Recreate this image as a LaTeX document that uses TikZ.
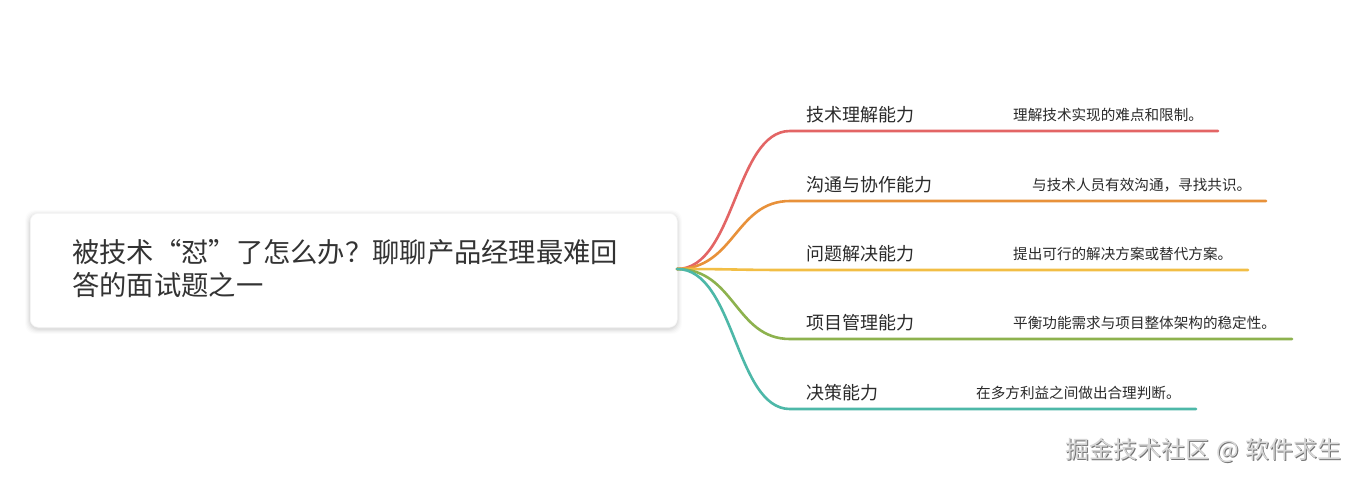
\documentclass[tikz,border=0pt]{standalone}
\usepackage{fontspec}
\setmainfont{Noto Sans CJK SC}
\newfontfamily\cjk{Noto Sans CJK SC}
\definecolor{cred}{HTML}{E36565}
\definecolor{corange}{HTML}{E8913A}
\definecolor{cyellow}{HTML}{F2BE45}
\definecolor{cgreen}{HTML}{8DB24E}
\definecolor{cteal}{HTML}{4DB8A8}
\definecolor{ctext}{HTML}{2A2A2A}
\definecolor{ctitle}{HTML}{333333}
\begin{document}
\begin{tikzpicture}[x=1pt,y=-1pt,
  branch/.style={line width=2.6pt, line cap=round},
  lbl/.style={anchor=west, inner sep=0pt, text=ctext, font=\cjk\fontsize{18}{20}\selectfont},
  desc/.style={anchor=west, inner sep=0pt, text=ctext, font=\cjk\fontsize{14.6}{16}\selectfont},
  titlebox/.style={rounded corners=8pt, fill=white, draw=black!4, line width=0.6pt},
  wmark/.style={anchor=west, inner sep=0pt, font=\cjk\fontsize{24}{26}\selectfont},
]
\useasboundingbox (0,0) rectangle (1366,480);
\fill[white] (0,0) rectangle (1366,480);
% soft shadow
\foreach \i/\o in {5/0.012,4/0.018,3/0.024,2/0.03,1/0.036}{
  \fill[black, opacity=\o, rounded corners=10pt] (30-\i,213-\i+2) rectangle (677+\i,327+\i+2);
}
\node[titlebox, minimum width=647pt, minimum height=114pt, anchor=north west, inner sep=0pt] (box) at (30,213) {};
\node[anchor=west, align=left, inner sep=0pt, text=ctitle,
      font=\cjk\fontsize{27.3}{33}\selectfont] (title) at (72,268.5)
  {被技术“怼”了怎么办？聊聊产品经理最难回\\答的面试题之一};

\coordinate (hub) at (677,269);

% branch 1
\coordinate (s1) at (790,131); \coordinate (e1) at (1218,131);
\draw[branch, cred] (hub) .. controls (735,269) and (735,131) .. (s1) -- (e1);
\node[lbl] (l1) at (806,115) {技术理解能力};
\node[desc] (d1) at (1013,115) {理解技术实现的难点和限制。};

% branch 2
\coordinate (s2) at (790,201); \coordinate (e2) at (1266,201);
\draw[branch, corange] (hub) .. controls (735,269) and (735,201) .. (s2) -- (e2);
\node[lbl] (l2) at (806,185) {沟通与协作能力};
\node[desc] (d2) at (1032,185) {与技术人员有效沟通，寻找共识。};

% branch 3
\coordinate (s3) at (790,270); \coordinate (e3) at (1248,270);
\draw[branch, cyellow] (hub) .. controls (735,269) and (735,270) .. (s3) -- (e3);
\node[lbl] (l3) at (806,254) {问题解决能力};
\node[desc] (d3) at (1013,254) {提出可行的解决方案或替代方案。};

% branch 4
\coordinate (s4) at (790,339); \coordinate (e4) at (1292,339);
\draw[branch, cgreen] (hub) .. controls (735,269) and (735,339) .. (s4) -- (e4);
\node[lbl] (l4) at (806,323) {项目管理能力};
\node[desc] (d4) at (1013,323) {平衡功能需求与项目整体架构的稳定性。};

% branch 5
\coordinate (s5) at (790,409); \coordinate (e5) at (1196,409);
\draw[branch, cteal] (hub) .. controls (735,269) and (735,409) .. (s5) -- (e5);
\node[lbl] (l5) at (806,393) {决策能力};
\node[desc] (d5) at (976,393) {在多方利益之间做出合理判断。};

% watermark (embossed)
\node[wmark, text=black!55] (wms) at (1066,451) {掘金技术社区\hspace{7pt}@\hspace{7pt}软件求生};
\node[wmark, text=black!16] (wm) at (1065,450) {掘金技术社区\hspace{7pt}@\hspace{7pt}软件求生};
\end{tikzpicture}
\end{document}
